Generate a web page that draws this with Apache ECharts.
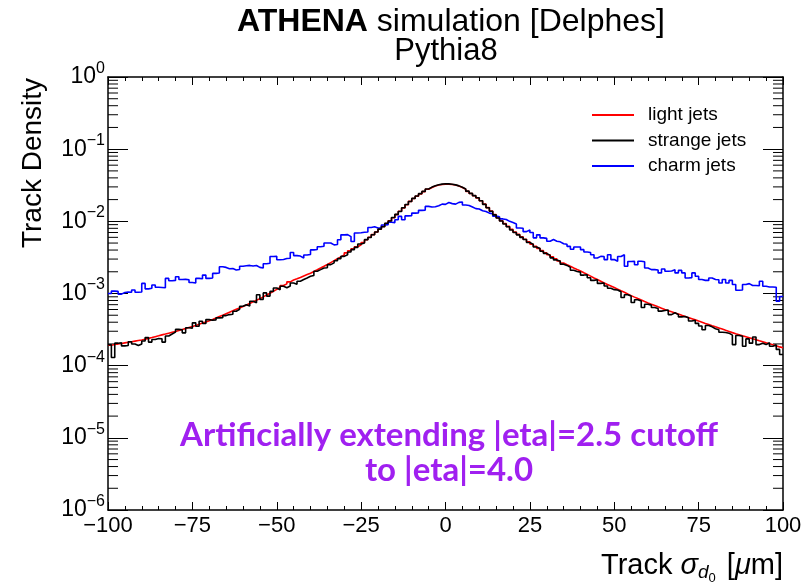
<!DOCTYPE html>
<html>
<head>
<meta charset="utf-8">
<script src="https://cdn.jsdelivr.net/npm/echarts@6/dist/echarts.min.js"></script>
<style>
  html, body { margin: 0; padding: 0; background: #fff; }
  #chart { width: 806px; height: 582px; }
</style>
</head>
<body>
<div id="chart"></div>
<script>
// Track sigma_d0 distributions, 200 bins of 1 um from -100 to 100 um.
const binLow = -100;
const binWidth = 1;

// light jets (red)
const lightJets = [
  1.92e-4, 1.96e-4, 2.00e-4, 2.03e-4, 2.07e-4, 2.11e-4, 2.15e-4, 2.19e-4, 2.23e-4, 2.27e-4,
  2.32e-4, 2.39e-4, 2.45e-4, 2.52e-4, 2.59e-4, 2.67e-4, 2.74e-4, 2.82e-4, 2.90e-4, 2.98e-4,
  3.07e-4, 3.17e-4, 3.27e-4, 3.38e-4, 3.49e-4, 3.61e-4, 3.75e-4, 3.89e-4, 4.04e-4, 4.19e-4,
  4.37e-4, 4.57e-4, 4.79e-4, 5.01e-4, 5.25e-4, 5.50e-4, 5.75e-4, 6.03e-4, 6.31e-4, 6.61e-4,
  6.93e-4, 7.29e-4, 7.67e-4, 8.07e-4, 8.49e-4, 8.97e-4, 9.53e-4, 1.01e-3, 1.07e-3, 1.14e-3,
  1.21e-3, 1.29e-3, 1.36e-3, 1.45e-3, 1.54e-3, 1.60e-3, 1.67e-3, 1.75e-3, 1.83e-3, 1.91e-3,
  2.02e-3, 2.13e-3, 2.25e-3, 2.38e-3, 2.52e-3, 2.68e-3, 2.85e-3, 3.03e-3, 3.22e-3, 3.42e-3,
  3.66e-3, 3.91e-3, 4.17e-3, 4.45e-3, 4.74e-3, 5.10e-3, 5.55e-3, 6.03e-3, 6.55e-3, 7.11e-3,
  7.76e-3, 8.51e-3, 9.33e-3, 1.02e-2, 1.12e-2, 1.24e-2, 1.38e-2, 1.53e-2, 1.70e-2, 1.89e-2,
  2.07e-2, 2.23e-2, 2.40e-2, 2.58e-2, 2.78e-2, 2.95e-2, 3.09e-2, 3.18e-2, 3.24e-2, 3.27e-2,
  3.27e-2, 3.24e-2, 3.18e-2, 3.09e-2, 2.95e-2, 2.79e-2, 2.60e-2, 2.43e-2, 2.26e-2, 2.11e-2,
  1.93e-2, 1.73e-2, 1.55e-2, 1.39e-2, 1.24e-2, 1.12e-2, 1.02e-2, 9.33e-3, 8.51e-3, 7.76e-3,
  7.13e-3, 6.59e-3, 6.10e-3, 5.64e-3, 5.21e-3, 4.84e-3, 4.52e-3, 4.22e-3, 3.94e-3, 3.67e-3,
  3.44e-3, 3.22e-3, 3.02e-3, 2.83e-3, 2.65e-3, 2.51e-3, 2.38e-3, 2.26e-3, 2.15e-3, 2.05e-3,
  1.94e-3, 1.84e-3, 1.74e-3, 1.64e-3, 1.56e-3, 1.48e-3, 1.40e-3, 1.33e-3, 1.27e-3, 1.21e-3,
  1.15e-3, 1.09e-3, 1.04e-3, 9.84e-4, 9.35e-4, 8.91e-4, 8.51e-4, 8.13e-4, 7.76e-4, 7.41e-4,
  7.10e-4, 6.81e-4, 6.53e-4, 6.27e-4, 6.01e-4, 5.78e-4, 5.57e-4, 5.37e-4, 5.18e-4, 4.99e-4,
  4.81e-4, 4.63e-4, 4.47e-4, 4.31e-4, 4.15e-4, 4.00e-4, 3.85e-4, 3.72e-4, 3.58e-4, 3.45e-4,
  3.33e-4, 3.21e-4, 3.09e-4, 2.98e-4, 2.87e-4, 2.77e-4, 2.69e-4, 2.60e-4, 2.52e-4, 2.44e-4,
  2.36e-4, 2.29e-4, 2.21e-4, 2.14e-4, 2.07e-4, 2.01e-4, 1.95e-4, 1.88e-4, 1.82e-4, 1.77e-4
];

// strange jets (black)
const strangeJets = [
  1.95e-4, 1.30e-4, 2.05e-4, 2.08e-4, 1.88e-4, 1.90e-4, 2.15e-4, 2.00e-4, 1.90e-4, 2.00e-4,
  2.20e-4, 2.45e-4, 2.12e-4, 2.30e-4, 2.38e-4, 2.36e-4, 2.12e-4, 2.58e-4, 2.75e-4, 2.92e-4,
  3.18e-4, 3.15e-4, 2.85e-4, 3.35e-4, 3.30e-4, 3.92e-4, 3.52e-4, 4.12e-4, 3.84e-4, 4.35e-4,
  4.27e-4, 4.30e-4, 4.60e-4, 4.62e-4, 4.94e-4, 5.10e-4, 5.15e-4, 5.68e-4, 6.05e-4, 6.65e-4,
  7.00e-4, 6.70e-4, 7.80e-4, 7.45e-4, 9.60e-4, 8.30e-4, 1.02e-3, 9.20e-4, 1.07e-3, 1.19e-3,
  1.13e-3, 1.26e-3, 1.20e-3, 1.27e-3, 1.40e-3, 1.34e-3, 1.48e-3, 1.56e-3, 1.64e-3, 1.73e-3,
  1.78e-3, 2.03e-3, 2.14e-3, 2.26e-3, 2.27e-3, 2.51e-3, 2.66e-3, 2.85e-3, 3.04e-3, 3.27e-3,
  3.45e-3, 3.76e-3, 4.05e-3, 4.35e-3, 4.85e-3, 5.01e-3, 5.57e-3, 5.98e-3, 6.53e-3, 7.11e-3,
  7.80e-3, 8.40e-3, 9.40e-3, 1.01e-2, 1.13e-2, 1.25e-2, 1.37e-2, 1.54e-2, 1.71e-2, 1.88e-2,
  2.08e-2, 2.24e-2, 2.42e-2, 2.60e-2, 2.80e-2, 2.98e-2, 3.12e-2, 3.22e-2, 3.28e-2, 3.31e-2,
  3.30e-2, 3.27e-2, 3.20e-2, 3.10e-2, 2.96e-2, 2.80e-2, 2.62e-2, 2.44e-2, 2.27e-2, 2.12e-2,
  1.93e-2, 1.72e-2, 1.54e-2, 1.38e-2, 1.23e-2, 1.11e-2, 1.01e-2, 9.20e-3, 8.40e-3, 7.60e-3,
  7.00e-3, 6.50e-3, 6.00e-3, 5.60e-3, 5.10e-3, 4.80e-3, 4.40e-3, 4.20e-3, 3.85e-3, 3.60e-3,
  3.38e-3, 3.12e-3, 2.92e-3, 2.80e-3, 2.55e-3, 2.45e-3, 2.30e-3, 2.10e-3, 2.02e-3, 1.98e-3,
  1.80e-3, 1.82e-3, 1.65e-3, 1.52e-3, 1.55e-3, 1.38e-3, 1.40e-3, 1.27e-3, 1.18e-3, 1.13e-3,
  1.12e-3, 1.06e-3, 8.80e-4, 9.60e-4, 9.20e-4, 7.50e-4, 8.20e-4, 7.90e-4, 6.40e-4, 7.10e-4,
  6.90e-4, 6.40e-4, 6.20e-4, 5.70e-4, 5.80e-4, 5.90e-4, 5.10e-4, 5.40e-4, 5.10e-4, 4.75e-4,
  4.80e-4, 4.60e-4, 4.15e-4, 4.25e-4, 3.85e-4, 3.55e-4, 3.15e-4, 3.60e-4, 3.45e-4, 3.25e-4,
  3.15e-4, 2.90e-4, 2.88e-4, 2.82e-4, 2.65e-4, 1.96e-4, 2.62e-4, 2.55e-4, 1.86e-4, 2.35e-4,
  2.05e-4, 2.50e-4, 1.96e-4, 2.05e-4, 1.96e-4, 2.08e-4, 1.86e-4, 1.95e-4, 1.68e-4, 1.43e-4
];

// charm jets (blue)
const charmJets = [
  1.00e-3, 1.08e-3, 1.07e-3, 9.80e-4, 1.03e-3, 1.05e-3, 1.04e-3, 1.12e-3, 1.04e-3, 1.05e-3,
  1.38e-3, 1.16e-3, 1.18e-3, 1.31e-3, 1.22e-3, 1.21e-3, 1.20e-3, 1.62e-3, 1.50e-3, 1.52e-3,
  1.71e-3, 1.56e-3, 1.57e-3, 1.55e-3, 1.42e-3, 1.40e-3, 1.62e-3, 1.60e-3, 1.80e-3, 1.62e-3,
  1.64e-3, 1.90e-3, 1.92e-3, 2.35e-3, 2.30e-3, 2.20e-3, 2.22e-3, 2.12e-3, 2.15e-3, 2.38e-3,
  2.42e-3, 2.45e-3, 2.40e-3, 2.44e-3, 2.30e-3, 2.26e-3, 2.58e-3, 2.62e-3, 3.25e-3, 3.28e-3,
  2.94e-3, 2.96e-3, 3.05e-3, 3.08e-3, 3.70e-3, 3.35e-3, 3.30e-3, 3.10e-3, 3.42e-3, 3.48e-3,
  4.02e-3, 4.08e-3, 4.45e-3, 4.52e-3, 5.00e-3, 5.02e-3, 4.72e-3, 4.78e-3, 5.55e-3, 6.50e-3,
  6.55e-3, 6.15e-3, 5.25e-3, 6.90e-3, 6.95e-3, 7.05e-3, 7.10e-3, 8.20e-3, 8.40e-3, 8.10e-3,
  8.10e-3, 8.90e-3, 9.00e-3, 9.70e-3, 9.60e-3, 1.05e-2, 1.17e-2, 1.05e-2, 1.19e-2, 1.20e-2,
  1.30e-2, 1.31e-2, 1.42e-2, 1.43e-2, 1.61e-2, 1.58e-2, 1.59e-2, 1.64e-2, 1.73e-2, 1.72e-2,
  1.82e-2, 1.76e-2, 1.73e-2, 1.83e-2, 1.85e-2, 1.68e-2, 1.66e-2, 1.58e-2, 1.50e-2, 1.48e-2,
  1.40e-2, 1.37e-2, 1.30e-2, 1.27e-2, 1.18e-2, 1.16e-2, 1.08e-2, 1.06e-2, 1.00e-2, 9.60e-3,
  9.20e-3, 8.10e-3, 8.00e-3, 7.20e-3, 7.60e-3, 7.00e-3, 5.90e-3, 6.50e-3, 5.90e-3, 5.80e-3,
  5.30e-3, 5.60e-3, 5.30e-3, 5.20e-3, 4.90e-3, 4.80e-3, 4.50e-3, 4.10e-3, 4.40e-3, 4.40e-3,
  4.05e-3, 3.75e-3, 3.70e-3, 3.45e-3, 3.10e-3, 3.27e-3, 3.25e-3, 2.95e-3, 3.45e-3, 2.95e-3,
  2.80e-3, 3.25e-3, 3.45e-3, 2.38e-3, 2.78e-3, 2.80e-3, 2.50e-3, 2.80e-3, 2.75e-3, 2.26e-3,
  2.14e-3, 2.14e-3, 2.12e-3, 1.93e-3, 2.19e-3, 2.03e-3, 2.05e-3, 2.14e-3, 1.93e-3, 2.09e-3,
  1.93e-3, 1.64e-3, 1.66e-3, 1.93e-3, 1.73e-3, 1.56e-3, 1.52e-3, 1.52e-3, 1.64e-3, 1.56e-3,
  1.55e-3, 1.40e-3, 1.56e-3, 1.40e-3, 1.52e-3, 1.33e-3, 1.11e-3, 1.12e-3, 1.33e-3, 1.37e-3,
  1.29e-3, 1.29e-3, 1.28e-3, 1.48e-3, 1.26e-3, 1.23e-3, 1.23e-3, 1.22e-3, 7.80e-4, 9.10e-4
];

const seriesNames = ['light jets', 'strange jets', 'charm jets'];
const seriesColors = ['#ff0000', '#000000', '#0000ff'];
const xTicks = [-100, -75, -50, -25, 0, 25, 50, 75, 100];
const yDecades = [-6, -5, -4, -3, -2, -1, 0];

// Histogram outline: value held from each bin's low edge, closed at the last high edge.
function stepData(values) {
  const pts = values.map((v, i) => [binLow + i * binWidth, v]);
  pts.push([binLow + values.length * binWidth, values[values.length - 1]]);
  return pts;
}

// Log-axis minor ticks at 2..9 x 10^d.
const yMinor = [];
for (let d = yDecades[0]; d < yDecades[yDecades.length - 1]; d++) {
  for (let k = 2; k <= 9; k++) yMinor.push(k * Math.pow(10, d));
}

const FONT = '"Liberation Sans", Arial, Helvetica, sans-serif';
const xMin = xTicks[0], xMax = xTicks[xTicks.length - 1];

const chart = echarts.init(document.getElementById('chart'), null, { renderer: 'canvas' });

const superMinus = e => (e < 0 ? '\u2212' + (-e) : String(e));

const frameLine = { show: true, onZero: false, lineStyle: { color: '#000', width: 1.5 } };

chart.setOption({
  animation: false,
  backgroundColor: '#ffffff',
  grid: { left: 108, top: 77, width: 675, height: 433, show: false },
  legend: {
    data: seriesNames,
    orient: 'vertical',
    left: 592,
    top: 105,
    padding: 0,
    icon: 'rect',
    itemWidth: 42,
    itemHeight: 2,
    itemGap: 5.5,
    selectedMode: false,
    textStyle: { fontFamily: FONT, fontSize: 19, lineHeight: 20, color: '#000', padding: [0, 0, 0, 9] }
  },
  xAxis: [
    {
      type: 'value', min: xMin, max: xMax, interval: 25, position: 'bottom',
      axisLine: frameLine,
      axisTick: { show: true, inside: true, length: 8, lineStyle: { color: '#000', width: 1 } },
      minorTick: { show: true, splitNumber: 5, length: 4, lineStyle: { color: '#000', width: 1 } },
      splitLine: { show: false },
      axisLabel: {
        margin: 5, fontFamily: FONT, fontSize: 22, color: '#000',
        formatter: v => String(v).replace('-', '\u2212')
      }
    },
    {
      type: 'value', min: xMin, max: xMax, interval: 25, position: 'top',
      axisLine: frameLine,
      axisTick: { show: true, inside: true, length: 8, lineStyle: { color: '#000', width: 1 } },
      minorTick: { show: true, splitNumber: 5, length: 4, lineStyle: { color: '#000', width: 1 } },
      splitLine: { show: false },
      axisLabel: { show: false }
    }
  ],
  yAxis: [
    {
      type: 'log', logBase: 10, min: 1e-6, max: 1, interval: 1, position: 'left',
      axisLine: frameLine,
      axisTick: { show: true, inside: true, length: 20, lineStyle: { color: '#000', width: 1 } },
      splitLine: { show: false },
      axisLabel: {
        margin: 3, color: '#000',
        formatter: v => {
          const e = Math.round(Math.log10(v));
          return '{b|10}{s|' + superMinus(e) + '}';
        },
        rich: {
          b: { fontFamily: FONT, fontSize: 23, color: '#000', verticalAlign: 'bottom', lineHeight: 23 },
          s: { fontFamily: FONT, fontSize: 16, color: '#000', verticalAlign: 'bottom', lineHeight: 16, padding: [0, 0, 12, 0] }
        }
      }
    },
    {
      type: 'log', logBase: 10, min: 1e-6, max: 1, interval: 1, position: 'right',
      axisLine: frameLine,
      axisTick: { show: true, inside: true, length: 20, lineStyle: { color: '#000', width: 1 } },
      splitLine: { show: false },
      axisLabel: { show: false }
    }
  ],
  graphic: [
    {
      type: 'text', x: 451, y: 22,
      style: {
        text: '{bold|ATHENA}{reg| simulation [Delphes]}',
        align: 'center', verticalAlign: 'middle',
        rich: {
          bold: { fontFamily: FONT, fontSize: 32, fontWeight: 'bold', fill: '#000' },
          reg: { fontFamily: FONT, fontSize: 32, fill: '#000' }
        }
      }
    },
    {
      type: 'text', x: 446, y: 51,
      style: { text: 'Pythia8', font: '31px ' + FONT, fill: '#000', align: 'center', verticalAlign: 'middle' }
    },
    {
      type: 'text', x: 33, y: 163, rotation: Math.PI / 2,
      style: { text: 'Track Density', font: '28px ' + FONT, fill: '#000', align: 'center', verticalAlign: 'middle' }
    },
    {
      type: 'text', x: 783, y: 551,
      style: {
        text: '{t|Track }{g|\u03c3}{d|d}{z|0}{t| [}{g|\u03bc}{t|m]}',
        align: 'right', verticalAlign: 'top',
        rich: {
          t: { fontFamily: FONT, fontSize: 29, fill: '#000', verticalAlign: 'top', lineHeight: 29 },
          g: { fontFamily: FONT, fontSize: 29, fontStyle: 'italic', fill: '#000', verticalAlign: 'top', lineHeight: 29 },
          d: { fontFamily: FONT, fontSize: 19, fontStyle: 'italic', fill: '#000', verticalAlign: 'top', lineHeight: 19, padding: [12, 0, 0, 0] },
          z: { fontFamily: FONT, fontSize: 13, fill: '#000', verticalAlign: 'top', lineHeight: 13, padding: [21, 3, 0, 0] }
        }
      }
    },
    {
      type: 'text', x: 449, y: 435,
      style: {
        text: 'Artificially extending |eta|=2.5 cutoff',
        font: 'bold 33px Lato, "Open Sans", sans-serif', fill: '#a020f0', align: 'center', verticalAlign: 'middle'
      }
    },
    {
      type: 'text', x: 449, y: 470,
      style: {
        text: 'to |eta|=4.0',
        font: 'bold 33px Lato, "Open Sans", sans-serif', fill: '#a020f0', align: 'center', verticalAlign: 'middle'
      }
    }
  ],
  series: [
    ...[lightJets, strangeJets, charmJets].map((vals, i) => ({
      name: seriesNames[i],
      type: 'line',
      step: 'end',
      xAxisIndex: 0, yAxisIndex: 0,
      data: stepData(vals),
      showSymbol: false,
      symbol: 'none',
      lineStyle: { color: seriesColors[i], width: 1.6 },
      itemStyle: { color: seriesColors[i] },
      z: i === 1 ? 4 : 3
    })),
    {
      name: 'yMinorTicks',
      type: 'custom',
      xAxisIndex: 0, yAxisIndex: 0,
      data: yMinor.map(v => [xMin, v]),
      clip: false,
      silent: true,
      renderItem: (params, api) => {
        const v = api.value(1);
        const pl = api.coord([xMin, v]);
        const pr = api.coord([xMax, v]);
        const s = { stroke: '#000', lineWidth: 1 };
        return {
          type: 'group',
          children: [
            { type: 'line', shape: { x1: pl[0], y1: pl[1], x2: pl[0] + 10, y2: pl[1] }, style: s },
            { type: 'line', shape: { x1: pr[0] - 10, y1: pr[1], x2: pr[0], y2: pr[1] }, style: s }
          ]
        };
      }
    }
  ]
});
</script>
</body>
</html>
